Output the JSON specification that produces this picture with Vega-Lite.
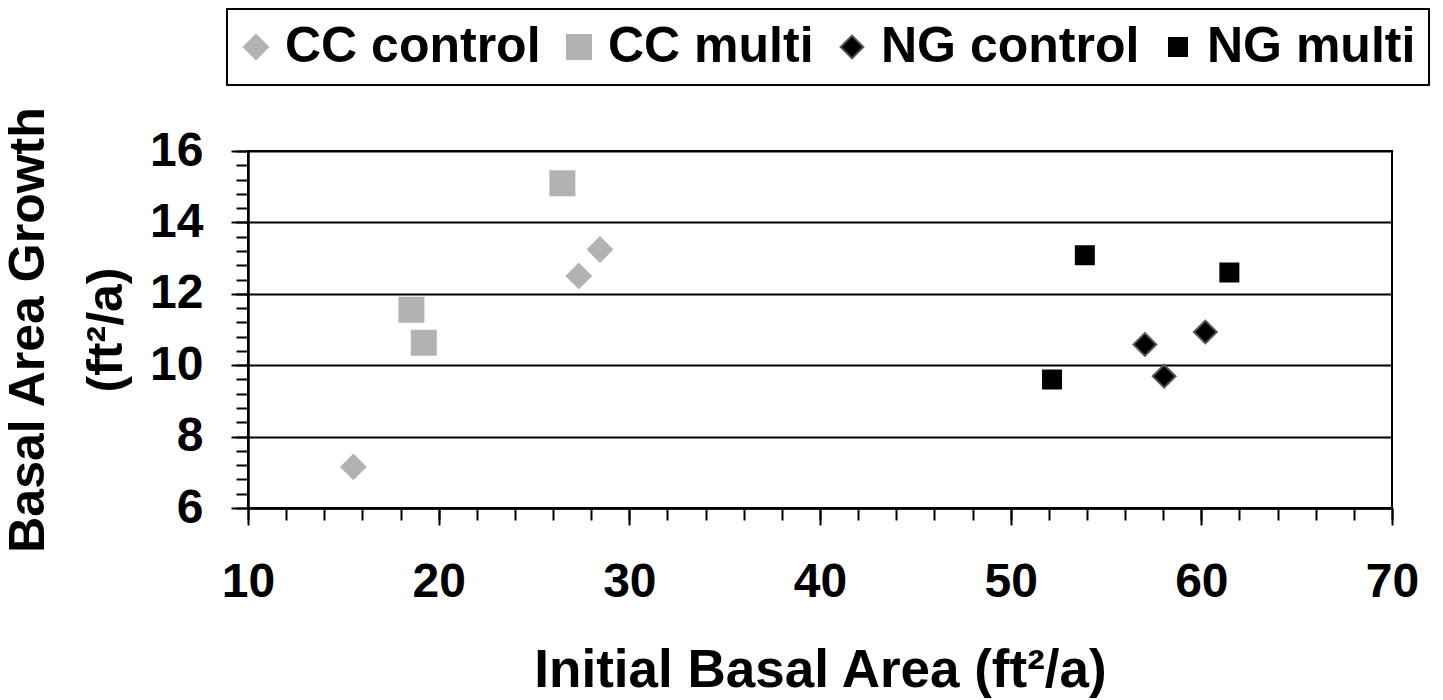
{
  "$schema": "https://vega.github.io/schema/vega-lite/v6.json",
  "width": 1144,
  "height": 357,
  "autosize": "none",
  "padding": {"left": 248, "top": 151, "right": 51, "bottom": 192},
  "background": "white",
  "config": {
    "font": "Liberation Sans",
    "view": {"stroke": "black", "strokeWidth": 2},
    "axis": {
      "labelFont": "Liberation Sans",
      "labelFontWeight": "bold",
      "labelColor": "black",
      "labelFlush": false,
      "titleFont": "Liberation Sans",
      "titleFontWeight": "bold",
      "titleColor": "black",
      "domainColor": "black",
      "domainWidth": 2.5,
      "tickColor": "black",
      "tickWidth": 2,
      "gridColor": "black",
      "gridWidth": 2,
      "gridOpacity": 1
    },
    "legend": {
      "strokeColor": "black",
      "strokeWidth": 2,
      "padding": 13,
      "labelFont": "Liberation Sans",
      "labelFontWeight": "bold",
      "labelFontSize": 50,
      "labelColor": "black",
      "labelLimit": 0,
      "labelOffset": 4,
      "columnPadding": 22,
      "symbolSize": 576,
      "symbolOffset": -9,
      "symbolStrokeWidth": 2
    }
  },
  "data": {
    "values": [
      {"series": "CC control", "x": 15.53, "y": 7.15},
      {"series": "CC control", "x": 27.35, "y": 12.5},
      {"series": "CC control", "x": 28.46, "y": 13.24},
      {"series": "CC multi", "x": 26.49, "y": 15.1},
      {"series": "CC multi", "x": 18.57, "y": 11.55},
      {"series": "CC multi", "x": 19.22, "y": 10.63},
      {"series": "NG control", "x": 57.04, "y": 10.58},
      {"series": "NG control", "x": 58.05, "y": 9.69},
      {"series": "NG control", "x": 60.21, "y": 10.93},
      {"series": "NG multi", "x": 52.17, "y": 9.6},
      {"series": "NG multi", "x": 53.89, "y": 13.08},
      {"series": "NG multi", "x": 61.47, "y": 12.6}
    ]
  },
  "layer": [
    {
      "mark": {"type": "point", "opacity": 0},
      "encoding": {
        "x": {
          "field": "x", "type": "quantitative",
          "scale": {"domain": [10, 70], "nice": false, "zero": false},
          "axis": {"orient": "bottom", "values": [10,12,14,16,18,20,22,24,26,28,30,32,34,36,38,40,42,44,46,48,50,52,54,56,58,60,62,64,66,68,70], "tickSize": 12, "labels": false, "domain": false, "grid": false, "title": null}
        },
        "y": {
          "field": "y", "type": "quantitative",
          "scale": {"domain": [6, 16], "nice": false, "zero": false},
          "axis": {"orient": "left", "values": [6,6.4,6.8,7.2,7.6,8,8.4,8.8,9.2,9.6,10,10.4,10.8,11.2,11.6,12,12.4,12.8,13.2,13.6,14,14.4,14.8,15.2,15.6,16], "tickSize": 12, "labels": false, "domain": false, "grid": false, "title": null}
        }
      }
    },
    {
      "mark": {"type": "point", "filled": true, "opacity": 1, "strokeWidth": 2, "size": 576},
      "encoding": {
        "x": {
          "field": "x", "type": "quantitative",
          "scale": {"domain": [10, 70], "nice": false, "zero": false},
          "axis": {"orient": "bottom", "values": [10,20,30,40,50,60,70], "tickSize": 17, "labelFontSize": 48, "labelPadding": 33, "grid": false, "title": "Initial Basal Area (ft²/a)", "titleFontSize": 53, "titlePadding": 38}
        },
        "y": {
          "field": "y", "type": "quantitative",
          "scale": {"domain": [6, 16], "nice": false, "zero": false},
          "axis": {"orient": "left", "values": [6,8,10,12,14,16], "tickSize": 17, "labelFontSize": 48, "labelPadding": 28, "grid": true, "title": ["Basal Area Growth", "(ft²/a)"], "titleFontSize": 50, "titleLineHeight": 78, "titlePadding": 18}
        },
        "color": {
          "field": "series", "type": "nominal",
          "scale": {"domain": ["CC control", "CC multi", "NG control", "NG multi"], "range": ["#b2b2b2", "#b2b2b2", "#000000", "#000000"]},
          "legend": {"title": null, "orient": "none", "legendX": -21, "legendY": -142, "direction": "horizontal"}
        },
        "shape": {
          "field": "series", "type": "nominal",
          "scale": {"domain": ["CC control", "CC multi", "NG control", "NG multi"], "range": ["diamond", "square", "M-0.95,0L0,-0.95L0.95,0L0,0.95Z", "M-0.75,-0.75H0.75V0.75H-0.75Z"]},
          "legend": {"title": null, "orient": "none", "legendX": -21, "legendY": -142, "direction": "horizontal"}
        },
        "stroke": {
          "field": "series", "type": "nominal",
          "scale": {"domain": ["CC control", "CC multi", "NG control", "NG multi"], "range": ["#b2b2b2", "#b2b2b2", "#555555", "#000000"]},
          "legend": {"title": null, "orient": "none", "legendX": -21, "legendY": -142, "direction": "horizontal"}
        }
      }
    }
  ],
  "resolve": {"axis": {"x": "independent", "y": "independent"}}
}
